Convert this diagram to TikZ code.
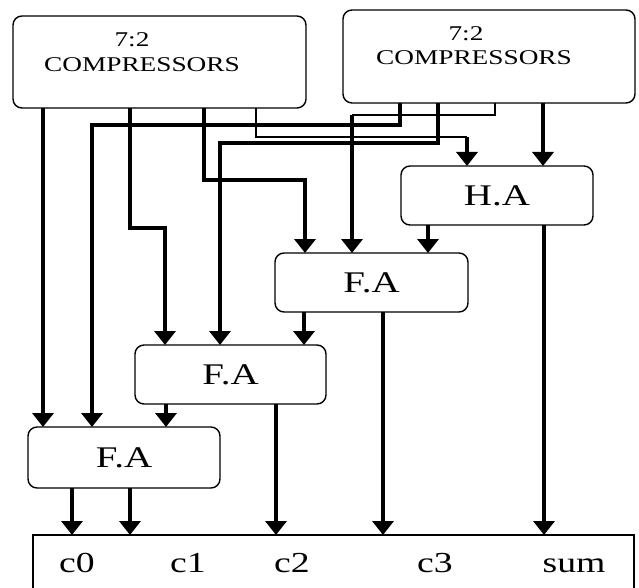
\documentclass[tikz,border=0pt]{standalone}
\usepackage{fontspec}
\newfontfamily\wf[FakeStretch=1.3]{Liberation Serif}
\usetikzlibrary{arrows.meta}
\begin{document}
\begin{tikzpicture}[x=1bp,y=-1bp,
  tip/.style={-{Triangle[width=21bp,length=14bp]}},
  box/.style={draw, line width=1.4bp, rounded corners=9bp, inner sep=0pt, outer sep=0pt},
  comp/.style={box},
  adder/.style={box, minimum width=192bp, minimum height=59bp, font={\wf\fontsize{30bp}{36bp}\selectfont}},
  ctext/.style={anchor=base, inner sep=0pt, font={\wf\fontsize{21bp}{25bp}\selectfont}},
  otext/.style={anchor=base, inner sep=0pt, font={\wf\fontsize{29bp}{34bp}\selectfont}},
  thk/.style={line width=4.4bp},
  med/.style={line width=3.4bp},
  thn/.style={line width=1.8bp}]
\useasboundingbox (0,0) rectangle (639,588);
\clip (0,0) rectangle (639,588);

% compressors
\node[comp, minimum width=293bp, minimum height=92bp] (lc) at (159.5,62) {};
\node[ctext] (lc7) at (132,47) {7:2};
\node[ctext] (lcc) at (142,72) {COMPRESSORS};
\node[comp, minimum width=292bp, minimum height=93bp] (rc) at (489,56.5) {};
\node[ctext] (rc7) at (466,41) {7:2};
\node[ctext] (rcc) at (474,65) {COMPRESSORS};

% adders
\node[adder] (ha)  at (497,195.5) {H.A\hspace{26bp}};
\node[adder, minimum width=193bp] (ufa) at (371.5,282.5) {F.A\hspace{30bp}};
\node[adder, minimum width=191bp] (mfa) at (230.5,374.5) {F.A\hspace{32bp}};
\node[adder, minimum height=61bp] (lfa) at (124,457.5) {F.A\hspace{28bp}};

% output register
\node[draw, line width=1.4bp, inner sep=0pt, outer sep=0pt, minimum width=601bp, minimum height=80bp] (out) at (333.5,575) {};
\node[otext] (c0) at (77,572) {c0};
\node[otext] (c1) at (188,572) {c1};
\node[otext] (c2) at (292,572) {c2};
\node[otext] (c3) at (435,572) {c3};
\node[otext] (sum) at (574,572) {sum};

% wiring from left compressor
\draw[thk,tip] (43,0 |- lc.south) -- (43,0 |- lfa.north);
\draw[med,tip] (130,0 |- lc.south) -- (130,228) -- (165,228) -- (165,0 |- mfa.north);
\draw[thk,tip] (204,0 |- lc.south) -- (204,180) -- (305,180) -- (305,0 |- ufa.north);
\coordinate (hain) at (467,137);
\draw[thn] (256,0 |- lc.south) -- (256,137) -- (hain);
\draw[med,tip] (hain) -- (467,0 |- ha.north);

% wiring from right compressor
\draw[thk,tip] (400,0 |- rc.south) -- (400,125) -- (92,125) -- (92,0 |- lfa.north);
\draw[med,tip] (438,0 |- rc.south) -- (438,143) -- (220,143) -- (220,0 |- mfa.north);
\coordinate (ufain) at (352,115);
\draw[thn] (495,0 |- rc.south) -- (495,115) -- (ufain);
\draw[thk,tip] (ufain) -- (352,0 |- ufa.north);
\draw[thk,tip] (543,0 |- rc.south) -- (543,0 |- ha.north);

% carries between adders
\draw[med,tip] (428,0 |- ha.south) -- (428,0 |- ufa.north);
\draw[med,tip] (304,0 |- ufa.south) -- (304,0 |- mfa.north);
\draw[med,tip] (166,0 |- mfa.south) -- (166,0 |- lfa.north);

% outputs
\draw[med,tip] (72,0 |- lfa.south) -- (72,0 |- out.north);
\draw[med,tip] (130,0 |- lfa.south) -- (130,0 |- out.north);
\draw[med,tip] (276,0 |- mfa.south) -- (276,0 |- out.north);
\draw[med,tip] (383,0 |- ufa.south) -- (383,0 |- out.north);
\draw[med,tip] (544,0 |- ha.south) -- (544,0 |- out.north);
\end{tikzpicture}
\end{document}
